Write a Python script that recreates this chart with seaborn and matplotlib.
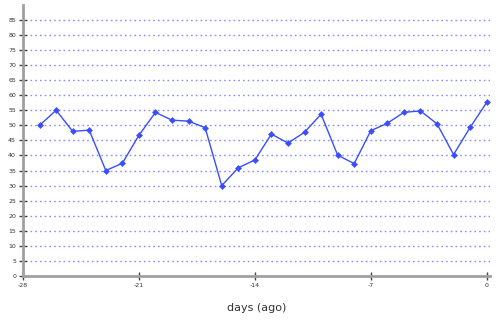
import matplotlib
matplotlib.use("Agg")
import matplotlib.pyplot as plt
import seaborn as sns
import pandas as pd
import numpy as np

days = list(range(-27, 1))
values = [50, 55, 48, 48.4, 35, 37.4, 46.7, 54.3, 51.7, 51.4, 49.2, 30,
          35.9, 38.5, 47.1, 44.1, 47.7, 53.7, 40.1, 37.3, 48.2, 50.7, 54.3,
          54.8, 50.5, 40.3, 49.3, 57.6]
xticks = [-28, -21, -14, -7, 0]
yticks = list(range(0, 90, 5))

sns.set_style("white")
plt.rcParams['font.family'] = ['DejaVu Sans']

fig = plt.figure(figsize=(5, 3.22), dpi=100)
ax = fig.add_axes([0.046, 0.143, 0.934, 0.842])

df = pd.DataFrame({"day": days, "value": values})

for y in yticks[1:]:
    ax.axhline(y, xmin=0.015, color="#8c8cff", linestyle=(0, (1.2, 2.2)), linewidth=1.0, zorder=1)

sns.lineplot(data=df, x="day", y="value", ax=ax, color="#3a4dff", linewidth=1.0,
             marker="D", markersize=3.5, markeredgewidth=0, zorder=3)

ax.set_xlim(-28, 0.2)
ax.set_ylim(0, 90)
ax.set_xticks(xticks)
ax.set_xticklabels([str(t) for t in xticks])
ax.set_yticks(yticks)
ax.set_yticklabels([str(t) for t in yticks])

for s in ["top", "right"]:
    ax.spines[s].set_visible(False)
for s in ["left", "bottom"]:
    ax.spines[s].set_color("#a0a0a0")
    ax.spines[s].set_linewidth(2)

ax.tick_params(axis="both", direction="inout", length=6, width=1, color="#404040",
               labelsize=4.5, labelcolor="#333333", pad=2, bottom=True, left=True)
ax.set_xlabel("days (ago)", fontsize=8, color="#333333", labelpad=11)
ax.set_ylabel("")
ax.grid(False)

fig.savefig("out.png", dpi=100)
